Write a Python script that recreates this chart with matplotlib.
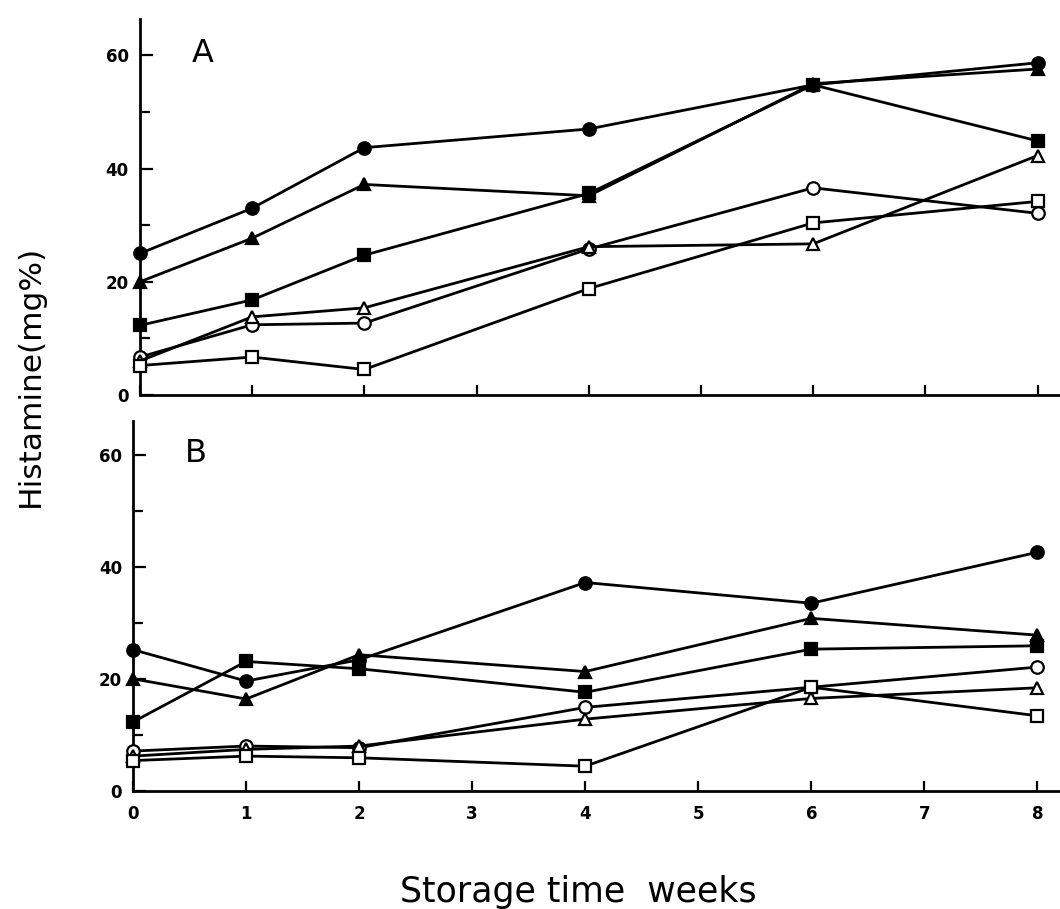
import matplotlib
matplotlib.use('Agg')
import matplotlib.pyplot as plt
from matplotlib.ticker import MultipleLocator

weeks = [0, 1, 2, 4, 6, 8]

# panel A
a_filled_circle = [25, 33, 43.7, 47, 54.8, 58.7]
a_filled_triangle = [20, 27.7, 37.2, 35.2, 55, 57.6]
a_filled_square = [12.3, 16.8, 24.7, 35.6, 54.8, 44.9]
a_open_circle = [6.7, 12.4, 12.7, 25.8, 36.6, 32.1]
a_open_triangle = [6, 13.8, 15.4, 26.2, 26.7, 42.3]
a_open_square = [5.2, 6.7, 4.5, 18.8, 30.4, 34.2]

# panel B
b_filled_circle = [25.2, 19.6, 23.4, 37.2, 33.5, 42.6]
b_filled_triangle = [20, 16.4, 24.3, 21.3, 30.8, 27.8]
b_filled_square = [12.3, 23.1, 21.8, 17.6, 25.3, 25.9]
b_open_circle = [7.1, 8, 7.7, 14.9, 18.5, 22.1]
b_open_triangle = [6.2, 7.4, 8, 12.8, 16.5, 18.4]
b_open_square = [5.4, 6.2, 5.9, 4.4, 18.5, 13.4]

xticks = [0, 1, 2, 3, 4, 5, 6, 7, 8]
yticks = [0, 20, 40, 60]

styles = [('o', 'black'), ('^', 'black'), ('s', 'black'),
          ('o', 'white'), ('^', 'white'), ('s', 'white')]

fig = plt.figure(figsize=(10.6, 9.09), dpi=100)
axA = fig.add_axes([0.132, 0.5655, 0.868, 0.414])
axB = fig.add_axes([0.1255, 0.13, 0.8745, 0.4066])


def draw(ax, series, ymax, letter, show_xlabels):
    for vals, (m, face) in zip(series, styles):
        ax.plot(weeks, vals, color='black', lw=2, marker=m, markersize=9,
                markerfacecolor=face, markeredgecolor='black', markeredgewidth=1.6,
                clip_on=False, zorder=3)
    ax.set_xlim(0, 8.2)
    ax.set_ylim(0, ymax)
    ax.spines['top'].set_visible(False)
    ax.spines['right'].set_visible(False)
    ax.spines['left'].set_linewidth(2)
    ax.spines['bottom'].set_linewidth(2)
    ax.set_xticks(xticks)
    ax.set_yticks(yticks)
    ax.yaxis.set_minor_locator(MultipleLocator(10))
    ax.tick_params(axis='both', which='both', direction='in', width=1.6)
    ax.tick_params(axis='y', which='major', length=9, pad=8, labelsize=12)
    ax.tick_params(axis='y', which='minor', length=7)
    ax.tick_params(axis='x', which='major', length=7, pad=10, labelsize=12)
    for lab in ax.get_xticklabels() + ax.get_yticklabels():
        lab.set_fontweight('bold')
    if not show_xlabels:
        ax.set_xticklabels([])
    ax.text(0.56, 60.3, letter, fontsize=23, ha='center', va='center')


draw(axA, [a_filled_circle, a_filled_triangle, a_filled_square,
           a_open_circle, a_open_triangle, a_open_square], 66.5, 'A', False)
draw(axB, [b_filled_circle, b_filled_triangle, b_filled_square,
           b_open_circle, b_open_triangle, b_open_square], 66, 'B', True)

fig.text(0.029, 0.587, 'Histamine(mg%)', rotation=90, fontsize=22.5,
         ha='center', va='center')
fig.text(0.546, 0.008, 'Storage time  weeks', fontsize=25,
         ha='center', va='baseline')

plt.savefig('out.png', dpi=100)
